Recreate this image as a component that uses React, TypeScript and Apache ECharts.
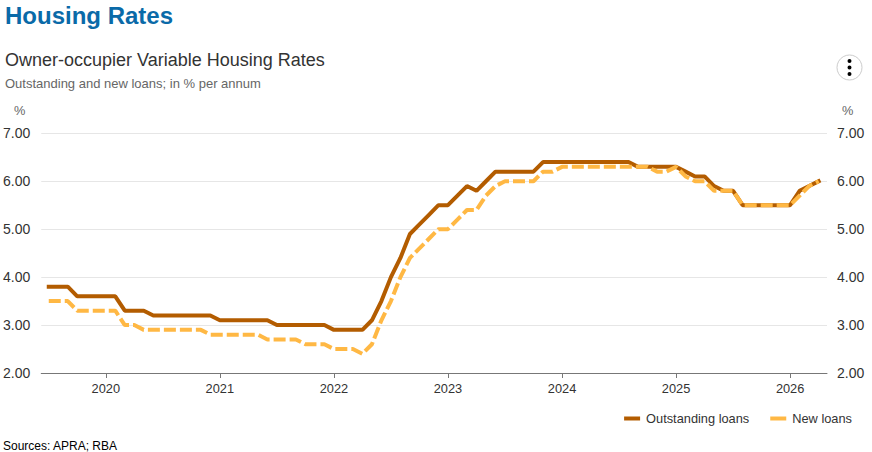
import React, { useEffect, useRef } from "react";
import * as echarts from "echarts";

const FONT = '"Liberation Sans", Arial, sans-serif';

// Monthly, July 2019 to April 2026
const outstanding = [
  3.8, 3.8, 3.8, 3.6, 3.6, 3.6,
  3.6, 3.6, 3.3, 3.3, 3.3, 3.2, 3.2, 3.2, 3.2, 3.2, 3.2, 3.2,
  3.1, 3.1, 3.1, 3.1, 3.1, 3.1, 3.0, 3.0, 3.0, 3.0, 3.0, 3.0,
  2.9, 2.9, 2.9, 2.9, 3.1, 3.5, 4.0, 4.4, 4.9, 5.1, 5.3, 5.5,
  5.5, 5.7, 5.9, 5.8, 6.0, 6.2, 6.2, 6.2, 6.2, 6.2, 6.4, 6.4,
  6.4, 6.4, 6.4, 6.4, 6.4, 6.4, 6.4, 6.4, 6.3, 6.3, 6.3, 6.3,
  6.3, 6.2, 6.1, 6.1, 5.9, 5.8, 5.8, 5.5, 5.5, 5.5, 5.5, 5.5,
  5.5, 5.8, 5.9, 6.0,
];
const newLoans = [
  3.5, 3.5, 3.5, 3.3, 3.3, 3.3,
  3.3, 3.3, 3.0, 3.0, 2.9, 2.9, 2.9, 2.9, 2.9, 2.9, 2.9, 2.8,
  2.8, 2.8, 2.8, 2.8, 2.8, 2.7, 2.7, 2.7, 2.7, 2.6, 2.6, 2.6,
  2.5, 2.5, 2.5, 2.4, 2.6, 3.1, 3.5, 4.0, 4.4, 4.6, 4.8, 5.0,
  5.0, 5.2, 5.4, 5.4, 5.7, 5.9, 6.0, 6.0, 6.0, 6.0, 6.2, 6.2,
  6.3, 6.3, 6.3, 6.3, 6.3, 6.3, 6.3, 6.3, 6.3, 6.3, 6.2, 6.2,
  6.3, 6.1, 6.0, 6.0, 5.8, 5.8, 5.8, 5.5, 5.5, 5.5, 5.5, 5.5,
  5.5, 5.7, 5.9, 6.0,
];
const yearLabels = [2020, 2021, 2022, 2023, 2024, 2025, 2026];
const yearTickMonths = yearLabels.map((y) => (y - 2019) * 12 - 6);

const pairs = (values: number[]) => values.map((v, i) => [i, v]);

echarts.graphic.registerShape(
  "menuDots",
  echarts.graphic.extendPath(
    "M0 0a2 2 0 1 0 4 0a2 2 0 1 0-4 0ZM0 6.5a2 2 0 1 0 4 0a2 2 0 1 0-4 0ZM0 13a2 2 0 1 0 4 0a2 2 0 1 0-4 0Z",
    {}
  )
);

export default function App() {
  const ref = useRef<HTMLDivElement>(null);
  useEffect(() => {
    const chart = echarts.init(ref.current!, null, { renderer: "svg" });
    const valueAxis = (position: string, margin: number) => ({
      type: "value",
      position,
      min: 2,
      max: 7,
      interval: 1,
      axisLine: { show: false },
      axisTick: { show: false },
      axisLabel: {
        margin,
        color: "#333333",
        fontFamily: FONT,
        fontSize: 14,
        formatter: (v: number) => v.toFixed(2),
      },
    });
    chart.setOption({
      animation: false,
      backgroundColor: "#ffffff",
      textStyle: { fontFamily: FONT },
      title: [
        {
          text: "Housing Rates",
          left: 5,
          top: 3,
          padding: 0,
          textStyle: { color: "#0a6aa8", fontFamily: FONT, fontSize: 24, fontWeight: "bold" },
        },
        {
          text: "Owner-occupier Variable Housing Rates",
          left: 5,
          top: 51,
          padding: 0,
          textStyle: { color: "#333333", fontFamily: FONT, fontSize: 18, fontWeight: "normal" },
        },
        {
          text: "Outstanding and new loans; in % per annum",
          left: 5,
          top: 77,
          padding: 0,
          textStyle: { color: "#666666", fontFamily: FONT, fontSize: 13, fontWeight: "normal" },
        },
        {
          text: "Sources: APRA; RBA",
          left: 3,
          top: 440,
          padding: 0,
          textStyle: { color: "#000000", fontFamily: FONT, fontSize: 12, fontWeight: "normal" },
        },
      ],
      grid: { left: 40, right: 45, top: 133.3, bottom: 79 },
      xAxis: {
        type: "value",
        min: -0.79,
        max: 81.88,
        splitLine: { show: false },
        axisLine: { onZero: false, lineStyle: { color: "#777777", width: 1 } },
        axisTick: {
          show: true,
          customValues: yearTickMonths,
          length: 5,
          lineStyle: { color: "#777777" },
        },
        axisLabel: {
          customValues: yearTickMonths,
          margin: 9,
          color: "#333333",
          fontFamily: FONT,
          fontSize: 12.8,
          formatter: (v: number) => String(yearLabels[yearTickMonths.indexOf(v)]),
        },
      },
      yAxis: [
        {
          ...valueAxis("left", 11),
          splitLine: { show: true, lineStyle: { color: "#e6e6e6", width: 1 } },
        },
        { ...valueAxis("right", 10), splitLine: { show: false } },
      ],
      legend: {
        right: 15,
        top: 407,
        itemWidth: 16,
        itemHeight: 4,
        itemGap: 21,
        textStyle: { color: "#333333", fontFamily: FONT, fontSize: 12.8, padding: [0, 0, 0, 1] },
        data: [
          { name: "Outstanding loans", icon: "rect", itemStyle: { color: "#b35c00" } },
          { name: "New loans", icon: "rect", itemStyle: { color: "#ffb844" } },
        ],
      },
      series: [
        {
          name: "Outstanding loans",
          type: "line",
          data: pairs(outstanding),
          showSymbol: false,
          lineStyle: { color: "#b35c00", width: 4, cap: "square" },
          itemStyle: { color: "#b35c00" },
          z: 2,
        },
        {
          name: "New loans",
          type: "line",
          data: pairs(newLoans),
          showSymbol: false,
          lineStyle: { color: "#ffb844", width: 4, type: [12, 4] },
          itemStyle: { color: "#ffb844" },
          z: 3,
        },
      ],
      graphic: [
        {
          type: "text",
          x: 14,
          y: 104,
          style: { text: "%", fill: "#666666", font: `12.8px ${FONT}` },
        },
        {
          type: "text",
          x: 842,
          y: 104,
          style: { text: "%", fill: "#666666", font: `12.8px ${FONT}` },
        },
        {
          type: "circle",
          shape: { cx: 849.5, cy: 67.5, r: 12.5 },
          style: { fill: "#ffffff", stroke: "#cccccc", lineWidth: 1 },
        },
        {
          type: "menuDots",
          x: 847.5,
          y: 61,
          style: { fill: "#000000" },
        },
      ],
    });
    return () => chart.dispose();
  }, []);
  return (
    <div
      ref={ref}
      style={{ position: "fixed", left: 0, top: 0, width: 872, height: 452 }}
    />
  );
}
